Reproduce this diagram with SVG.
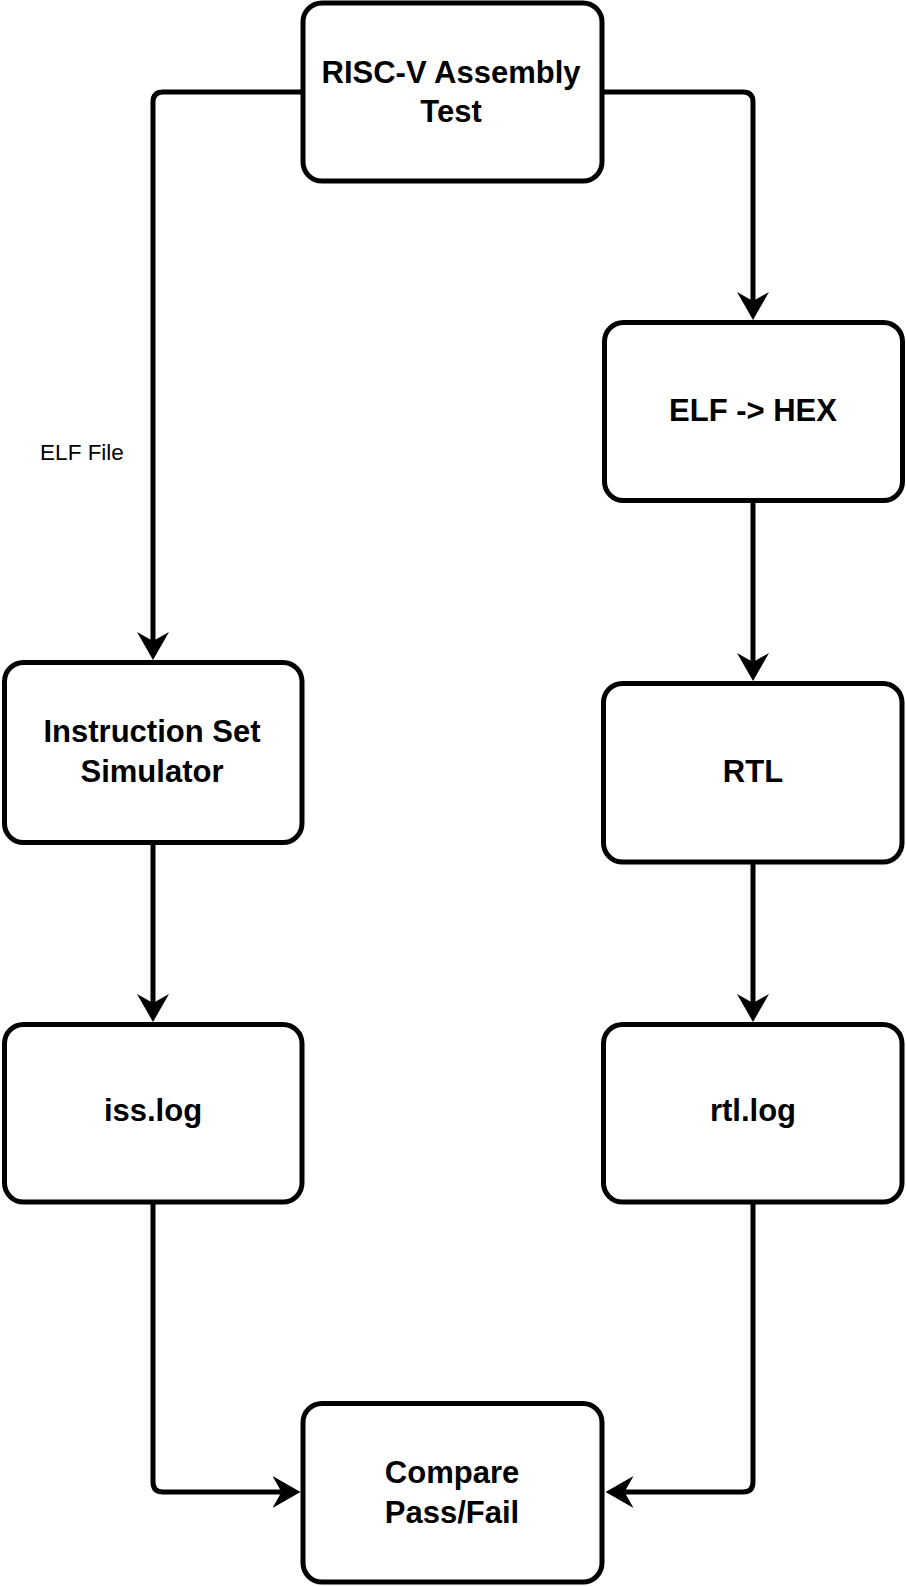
<svg xmlns="http://www.w3.org/2000/svg" width="906" height="1586" viewBox="0 0 906 1586">
  <style>
    .box { fill: #ffffff; stroke: #000000; stroke-width: 5; }
    .lbl { font-family: "Liberation Sans", Arial, Helvetica, sans-serif; font-weight: bold; font-size: 31px; fill: #000000; text-anchor: middle; }
    .edge { fill: none; stroke: #000000; stroke-width: 5; marker-end: url(#arrow); }
    .elbl { font-family: "Liberation Sans", Arial, Helvetica, sans-serif; font-size: 22.5px; fill: #000000; text-anchor: middle; }
  </style>
  <defs>
    <marker id="arrow" markerUnits="userSpaceOnUse" viewBox="0 0 28 32" markerWidth="28" markerHeight="32" refX="9" refY="16" orient="auto">
      <path d="M0,0 L28,16 L0,32 L9,16 Z" fill="#000000"/>
    </marker>
  </defs>
  <rect width="906" height="1586" fill="#ffffff"/>

  <g id="connectors">
    <path id="e-top-iss" class="edge" d="M303,92 H163 Q153,92 153,102 V641"/>
    <path id="e-top-elf" class="edge" d="M602,92 H743 Q753,92 753,102 V301"/>
    <path id="e-elf-rtl" class="edge" d="M753,501 V662"/>
    <path id="e-rtl-rtllog" class="edge" d="M753,862 V1003"/>
    <path id="e-iss-isslog" class="edge" d="M153,842 V1003"/>
    <path id="e-isslog-cmp" class="edge" d="M153,1202 V1482 Q153,1492 163,1492 H281.5"/>
    <path id="e-rtllog-cmp" class="edge" d="M753,1202 V1482 Q753,1492 743,1492 H624.5"/>
    <text class="elbl" x="82" y="460">ELF File</text>
  </g>

  <g id="node-top">
    <rect class="box" x="303" y="3" width="299" height="178" rx="19" ry="19"/>
    <text class="lbl" x="451" y="83">RISC-V Assembly</text>
    <text class="lbl" x="451" y="122">Test</text>
  </g>

  <g id="node-elf">
    <rect class="box" x="604.5" y="322.5" width="298" height="178" rx="19" ry="19"/>
    <text class="lbl" x="753" y="421">ELF -&gt; HEX</text>
  </g>

  <g id="node-rtl">
    <rect class="box" x="603.5" y="683.5" width="298.5" height="178.5" rx="19" ry="19"/>
    <text class="lbl" x="753" y="782">RTL</text>
  </g>

  <g id="node-rtllog">
    <rect class="box" x="603.5" y="1024.5" width="298.5" height="177.5" rx="19" ry="19"/>
    <text class="lbl" x="753" y="1121">rtl.log</text>
  </g>

  <g id="node-iss">
    <rect class="box" x="4.5" y="662.5" width="297.5" height="180" rx="19" ry="19"/>
    <text class="lbl" x="152" y="742">Instruction Set</text>
    <text class="lbl" x="152" y="782">Simulator</text>
  </g>

  <g id="node-isslog">
    <rect class="box" x="4.5" y="1024.5" width="297.5" height="177.5" rx="19" ry="19"/>
    <text class="lbl" x="153" y="1121">iss.log</text>
  </g>

  <g id="node-compare">
    <rect class="box" x="303" y="1403.5" width="299" height="178.5" rx="19" ry="19"/>
    <text class="lbl" x="452" y="1483">Compare</text>
    <text class="lbl" x="452" y="1523">Pass/Fail</text>
  </g>
</svg>
